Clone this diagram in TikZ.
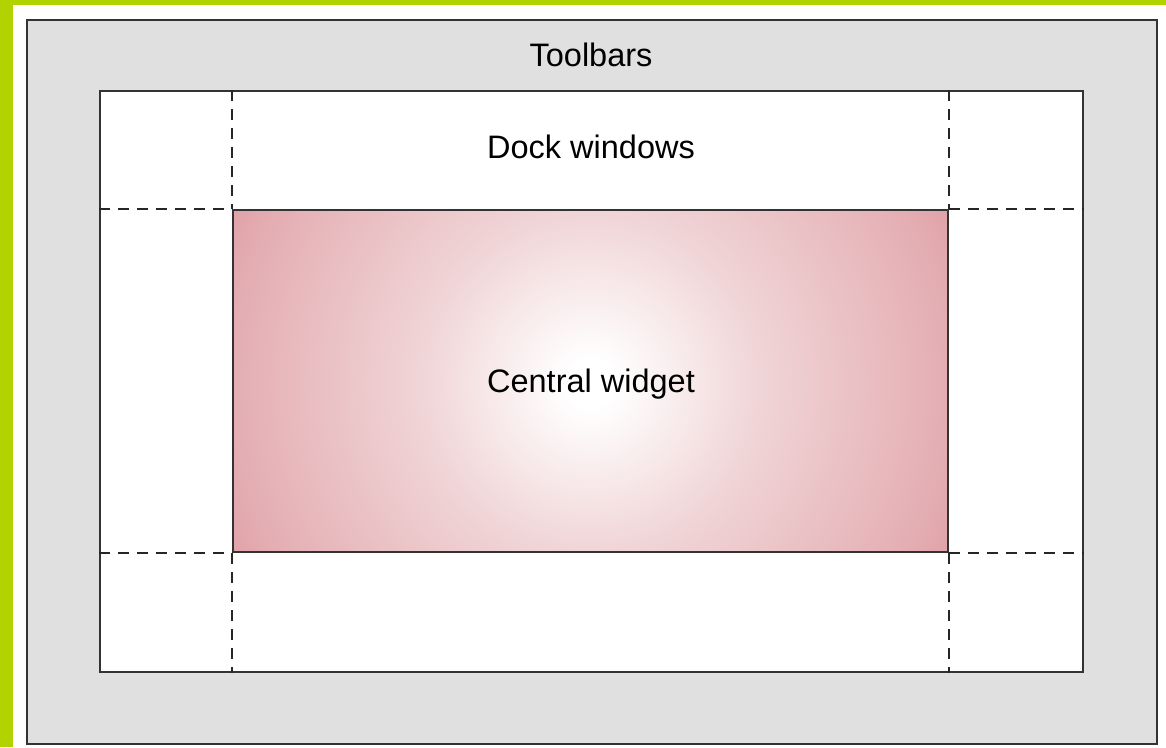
\documentclass[tikz,border=0pt]{standalone}
\usepackage{fontspec}
\setmainfont{Liberation Sans}
\definecolor{lime}{HTML}{B3D300}
\definecolor{panelgray}{HTML}{E0E0E0}
\definecolor{edgeline}{HTML}{333333}
\definecolor{pinkin}{HTML}{F0D4D6}
\definecolor{pinkmid}{HTML}{E4AEB3}
\definecolor{pinkcorner}{HTML}{DFA1A7}
\pgfdeclareradialshading{widgetshade}{\pgfpoint{0bp}{0bp}}{%
  color(0bp)=(white); color(1.5bp)=(white); color(10.7bp)=(pinkin); color(22.3bp)=(pinkmid); color(25bp)=(pinkcorner); color(50bp)=(pinkcorner)}
\begin{document}
\begin{tikzpicture}[x=1pt,y=-1pt,
  frame/.style={draw=edgeline,line width=2pt,rectangle,inner sep=0pt,anchor=north west},
  divider/.style={draw=black!85,line width=2pt,dash pattern=on 11pt off 8pt},
  label/.style={font=\fontsize{32.5}{38}\selectfont,text=black,inner sep=0pt}]
\useasboundingbox (0,0) rectangle (1166,747);
\fill[white] (0,0) rectangle (1166,747);
\fill[lime] (0,0) rectangle (1166,5);
\fill[lime] (0,0) rectangle (13,747);
% outer toolbar area
\node[frame,fill=panelgray,minimum width=1130pt,minimum height=724pt] (outer) at (26,19) {};
% dock window area
\node[frame,fill=white,minimum width=983pt,minimum height=581pt] (inner) at (99,90) {};
% central widget
\begin{scope}
\clip (232,209) rectangle (947,551);
\shade[shading=widgetshade] (590,383) circle[radius=400pt];
\end{scope}
\node[frame,minimum width=715pt,minimum height=342pt] (central) at (232,209) {};
% dashed dividers
\coordinate (t1) at (central.north west |- inner.north);
\coordinate (t2) at (central.north east |- inner.north);
\coordinate (b1) at (central.south west |- inner.south);
\coordinate (b2) at (central.south east |- inner.south);
\coordinate (l1) at (inner.west |- central.north west);
\coordinate (l2) at (inner.west |- central.south west);
\coordinate (r1) at (inner.east |- central.north east);
\coordinate (r2) at (inner.east |- central.south east);
\draw[divider] (t1) -- (central.north west);
\draw[divider] (t2) -- (central.north east);
\draw[divider] (central.south west) -- (b1);
\draw[divider] (central.south east) -- (b2);
\draw[divider] (l1) -- (central.north west);
\draw[divider] (l2) -- (central.south west);
\draw[divider] (central.north east) -- (r1);
\draw[divider] (central.south east) -- (r2);
% labels
\node[label] (toolbars) at (591,55) {Toolbars};
\node[label] (dock) at (591,147) {Dock windows};
\node[label] (centraltext) at (591,384) {Central widget};
\end{tikzpicture}
\end{document}
